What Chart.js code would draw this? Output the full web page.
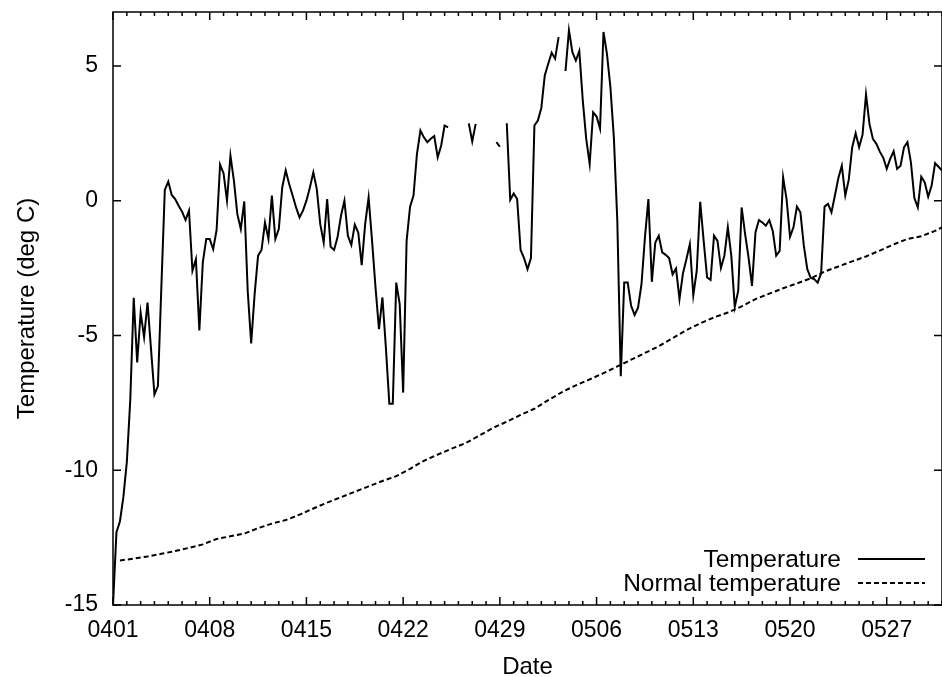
<!DOCTYPE html>
<html>
<head>
<meta charset="utf-8">
<script src="https://cdn.jsdelivr.net/npm/chart.js@4.4.1/dist/chart.umd.min.js"></script>
<style>
html,body{margin:0;padding:0;background:#fff;}
#wrap{width:942px;height:677px;position:relative;}
</style>
</head>
<body>
<div id="wrap"><canvas id="c"></canvas></div>
<script>
// X tick labels (every 7 days from 0401)
const tickLabels = ['0401','0408','0415','0422','0429','0506','0513','0520','0527'];
// Observed temperature, one value every 6 hours from 0401 00:00 (null = missing)
const temperature = [
  -15.0, -12.3, -11.9, -11.0, -9.7, -7.4, -3.6, -6.0, -4.15, -5.06,
  -3.78, -5.5, -7.19, -6.88, -3.2, 0.40, 0.71, 0.21, 0.06, -0.19,
  -0.41, -0.72, -0.37, -2.60, -2.17, -4.81, -2.29, -1.42, -1.42, -1.80,
  -1.08, 1.34, 1.02, 0.0, 1.67, 0.74, -0.50, -1.05, -0.03, -3.35,
  -5.30, -3.47, -2.04, -1.83, -0.81, -1.42, 0.19, -1.42, -1.05, 0.50,
  1.12, 0.62, 0.19, -0.25, -0.62, -0.37, 0.0, 0.49, 1.05, 0.43,
  -0.87, -1.55, 0.06, -1.71, -1.83, -1.36, -0.56, 0.0, -1.30, -1.64,
  -0.89, -1.18, -2.39, -0.87, 0.12, -1.49, -3.22, -4.77, -3.59, -5.45,
  -7.53, -7.53, -3.04, -3.84, -7.12, -1.49, -0.22, 0.19, 1.74, 2.60,
  2.35, 2.17, 2.30, 2.40, 1.61, 2.04, 2.79, 2.72, null, null,
  null, null, null, 2.87, 2.20, 2.85, null, null, null, null,
  null, 2.17, 2.00, null, 2.87, 0.03, 0.27, 0.06, -1.83, -2.13,
  -2.54, -2.13, 2.79, 2.97, 3.44, 4.65, 5.08, 5.49, 5.27, 6.07,
  null, 4.81, 6.32, 5.51, 5.20, 5.55, 3.72, 2.29, 1.36, 3.28,
  3.12, 2.67, 6.26, 5.45, 4.21, 2.35, -0.74, -6.51, -3.04, -3.04,
  -3.90, -4.24, -3.97, -3.10, -1.36, 0.06, -3.01, -1.55, -1.30, -1.92,
  -2.01, -2.13, -2.73, -2.52, -3.65, -2.70, -2.17, -1.61, -3.51, -2.60,
  -0.04, -1.49, -2.85, -2.94, -1.30, -1.49, -2.50, -2.04, -0.99, -2.04,
  -3.94, -3.35, -0.25, -1.24, -2.11, -3.16, -1.18, -0.72, -0.81, -0.93,
  -0.72, -1.12, -2.04, -1.86, 0.87, 0.06, -1.34, -0.99, -0.22, -0.43,
  -1.67, -2.54, -2.87, -2.91, -3.04, -2.70, -0.22, -0.12, -0.43, 0.19,
  0.84, 1.30, 0.19, 0.77, 1.98, 2.50, 1.98, 2.45, 3.94, 2.85,
  2.29, 2.11, 1.82, 1.59, 1.18, 1.55, 1.83, 1.18, 1.30, 1.98,
  2.17, 1.42, 0.10, -0.25, 0.89, 0.68, 0.15, 0.56, 1.39, 1.26, 1.12
];
// Normal temperature, one value per day (at noon) from 0401 to 0531
const normalTemperature = [
  -13.35, -13.28, -13.2, -13.1, -13.0, -12.88, -12.75, -12.55, -12.45, -12.35,
  -12.15, -11.98, -11.85, -11.65, -11.42, -11.2, -11.0, -10.8, -10.6, -10.4,
  -10.22, -9.95, -9.65, -9.42, -9.2, -9.0, -8.72, -8.43, -8.2, -7.95,
  -7.72, -7.4, -7.1, -6.85, -6.63, -6.4, -6.15, -5.9, -5.65, -5.4,
  -5.1, -4.8, -4.55, -4.33, -4.15, -3.92, -3.65, -3.45, -3.25, -3.07,
  -2.88, -2.63, -2.44, -2.25, -2.07, -1.85, -1.62, -1.42, -1.32, -1.12,
  -0.86
];
const seriesLabels = ['Temperature', 'Normal temperature'];
const samplesPerDay = 4;
const totalDays = 60;

const FONT = '"Liberation Sans", Arial, Helvetica, sans-serif';
Chart.defaults.color = '#000';
Chart.defaults.font.family = FONT;
Chart.defaults.font.size = 23;

const tempPoints = temperature.map((v, i) => ({x: i / samplesPerDay, y: v}));
const normalPoints = normalTemperature.map((v, i) => ({x: i + 0.5, y: v}));

const framePlugin = {
  id: 'frame',
  afterDatasetsDraw(chart) {
    const {ctx, chartArea: a, scales: {x, y}} = chart;
    ctx.save();
    ctx.strokeStyle = '#000';
    ctx.lineWidth = 1.5;
    ctx.strokeRect(a.left, a.top, a.right - a.left, a.bottom - a.top);
    ctx.beginPath();
    for (let d = x.min; d <= x.max; d++) {
      const px = x.getPixelForValue(d);
      const len = (d % 7 === 0) ? 8 : 4;
      ctx.moveTo(px, a.bottom); ctx.lineTo(px, a.bottom - len);
      ctx.moveTo(px, a.top); ctx.lineTo(px, a.top + len);
    }
    y.ticks.forEach(t => {
      const py = y.getPixelForValue(t.value);
      ctx.moveTo(a.left, py); ctx.lineTo(a.left + 8, py);
      ctx.moveTo(a.right, py); ctx.lineTo(a.right - 8, py);
    });
    ctx.stroke();
    ctx.restore();
  }
};

const legendPlugin = {
  id: 'customLegend',
  afterDraw(chart) {
    const {ctx} = chart;
    const textRight = 841, lineStart = 858, lineEnd = 925;
    const rows = [559, 583];
    ctx.save();
    ctx.font = '24.5px ' + FONT;
    ctx.fillStyle = '#000';
    ctx.textAlign = 'right';
    ctx.textBaseline = 'middle';
    chart.data.datasets.forEach((ds, i) => {
      const yy = rows[i];
      ctx.fillText(ds.label, textRight, yy + 1);
      ctx.beginPath();
      ctx.setLineDash(ds.borderDash || []);
      ctx.lineWidth = ds.borderWidth;
      ctx.strokeStyle = ds.borderColor;
      ctx.moveTo(lineStart, yy);
      ctx.lineTo(lineEnd, yy);
      ctx.stroke();
    });
    ctx.restore();
  }
};

new Chart(document.getElementById('c'), {
  type: 'line',
  data: {
    datasets: [
      {label: seriesLabels[0], data: tempPoints, borderColor: '#000', borderWidth: 2,
       pointRadius: 0, spanGaps: false, tension: 0, fill: false},
      {label: seriesLabels[1], data: normalPoints, borderColor: '#000', borderWidth: 2,
       borderDash: [5, 3], pointRadius: 0, tension: 0, fill: false}
    ]
  },
  options: {
    responsive: true,
    maintainAspectRatio: false,
    animation: false,
    devicePixelRatio: 1,
    layout: {padding: {top: 12, right: 0, left: 0, bottom: 0}},
    plugins: {legend: {display: false}, tooltip: {enabled: false}},
    scales: {
      x: {
        type: 'linear', min: 0, max: totalDays,
        grid: {display: false, drawTicks: false},
        border: {display: false},
        ticks: {
          stepSize: 7, includeBounds: false, padding: 12, maxRotation: 0, autoSkip: false,
          callback: (v) => tickLabels[v / 7] ?? ''
        },
        title: {display: true, text: 'Date', font: {size: 24, lineHeight: 0.8}, padding: {top: 0, bottom: 0}},
        afterFit: (s) => { s.height = 72; s.paddingLeft = 0; s.paddingRight = 0; }
      },
      y: {
        type: 'linear', min: -15, max: 7,
        grid: {display: false, drawTicks: false},
        border: {display: false},
        ticks: {stepSize: 5, includeBounds: false, padding: 15},
        title: {display: true, text: 'Temperature (deg C)', font: {size: 24, lineHeight: 0.8}, padding: {top: 18, bottom: 0}},
        afterFit: (s) => { s.width = 113; s.paddingTop = 0; s.paddingBottom = 0; }
      }
    }
  },
  plugins: [framePlugin, legendPlugin]
});
</script>
</body>
</html>
